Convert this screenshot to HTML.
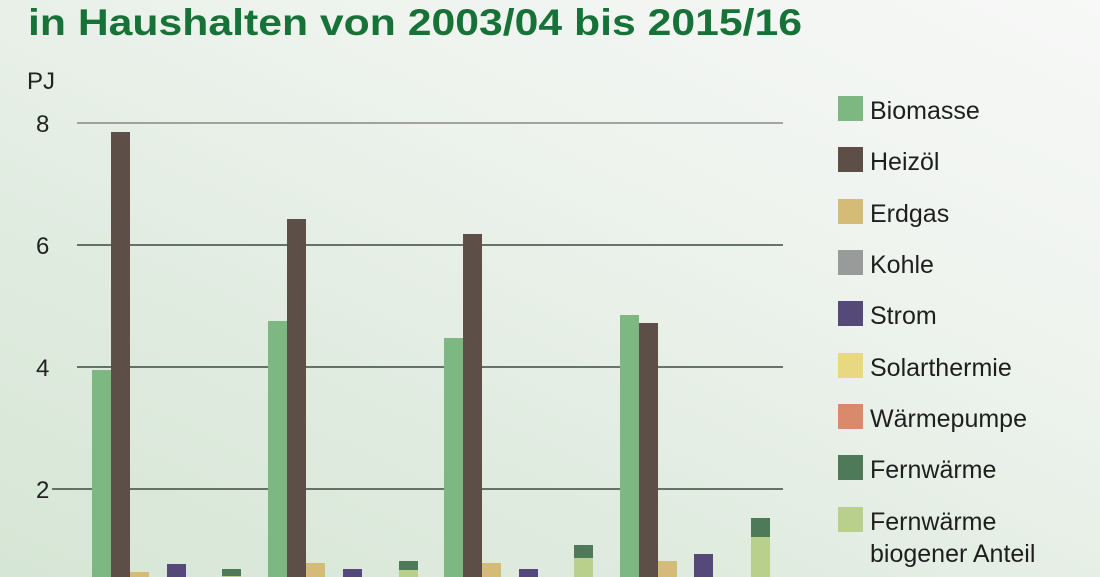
<!DOCTYPE html>
<html><head><meta charset="utf-8"><style>
html,body{margin:0;padding:0;width:1100px;height:577px;overflow:hidden}
body{background:linear-gradient(205deg,#f7f8f7 0%,#eef3ee 35%,#dfebdf 70%,#d6e6d5 100%)}
svg{display:block}
text{font-family:"Liberation Sans Narrow","Liberation Sans",sans-serif}
</style></head><body>
<svg width="1100" height="577" viewBox="0 0 1100 577">
<text x="28" y="35" font-size="37" font-weight="bold" fill="#177238" textLength="774" lengthAdjust="spacingAndGlyphs" style="font-family:'Liberation Sans',sans-serif">in Haushalten von 2003/04 bis 2015/16</text>
<g fill="#222" font-size="24">
<text x="27" y="89">PJ</text>
<text x="36" y="132">8</text>
<text x="36" y="254">6</text>
<text x="36" y="376">4</text>
<text x="36" y="498">2</text>
</g>
<g stroke="#3a4a3e" stroke-width="1.5">
<line x1="77" y1="123" x2="783" y2="123" stroke="#888"/>
<line x1="77" y1="245" x2="783" y2="245"/>
<line x1="77" y1="367" x2="783" y2="367"/>
<line x1="52" y1="489" x2="783" y2="489"/>
</g>
<g>
<rect x="92" y="370" width="19" height="220" fill="#7db882"/>
<rect x="111" y="132" width="19" height="460" fill="#5e4e48"/>
<rect x="130" y="572" width="19" height="20" fill="#d4bb78"/>
<rect x="167" y="564" width="19" height="20" fill="#55497a"/>
<rect x="222" y="569" width="19" height="20" fill="#4e7a5a"/>
<rect x="222" y="576" width="19" height="20" fill="#b8d08c"/>

<rect x="268" y="321" width="19" height="270" fill="#7db882"/>
<rect x="287" y="219" width="19" height="370" fill="#5e4e48"/>
<rect x="306" y="563" width="19" height="20" fill="#d4bb78"/>
<rect x="343" y="569" width="19" height="20" fill="#55497a"/>
<rect x="399" y="561" width="19" height="20" fill="#4e7a5a"/>
<rect x="399" y="570" width="19" height="20" fill="#b8d08c"/>

<rect x="444" y="338" width="19" height="250" fill="#7db882"/>
<rect x="463" y="234" width="19" height="350" fill="#5e4e48"/>
<rect x="482" y="563" width="19" height="20" fill="#d4bb78"/>
<rect x="519" y="569" width="19" height="20" fill="#55497a"/>
<rect x="574" y="545" width="19" height="40" fill="#4e7a5a"/>
<rect x="574" y="558" width="19" height="30" fill="#b8d08c"/>

<rect x="620" y="315" width="19" height="270" fill="#7db882"/>
<rect x="639" y="323" width="19" height="270" fill="#5e4e48"/>
<rect x="658" y="561" width="19" height="20" fill="#d4bb78"/>
<rect x="694" y="554" width="19" height="30" fill="#55497a"/>
<rect x="751" y="518" width="19" height="70" fill="#4e7a5a"/>
<rect x="751" y="537" width="19" height="50" fill="#b8d08c"/>
</g>
<g font-size="25" fill="#1e1e1e">
<rect x="838" y="96" width="25" height="25" fill="#7db882"/><text x="870" y="119">Biomasse</text>
<rect x="838" y="147" width="25" height="25" fill="#5e4e48"/><text x="870" y="170">Heizöl</text>
<rect x="838" y="199" width="25" height="25" fill="#d4bb78"/><text x="870" y="222">Erdgas</text>
<rect x="838" y="250" width="25" height="25" fill="#999a9a"/><text x="870" y="273">Kohle</text>
<rect x="838" y="301" width="25" height="25" fill="#55497a"/><text x="870" y="324">Strom</text>
<rect x="838" y="353" width="25" height="25" fill="#e8d880"/><text x="870" y="376">Solarthermie</text>
<rect x="838" y="404" width="25" height="25" fill="#d98a6a"/><text x="870" y="427">Wärmepumpe</text>
<rect x="838" y="455" width="25" height="25" fill="#4e7a5a"/><text x="870" y="478">Fernwärme</text>
<rect x="838" y="507" width="25" height="25" fill="#b8d08c"/><text x="870" y="530">Fernwärme</text>
<text x="870" y="562">biogener Anteil</text>
</g>
</svg>
</body></html>
